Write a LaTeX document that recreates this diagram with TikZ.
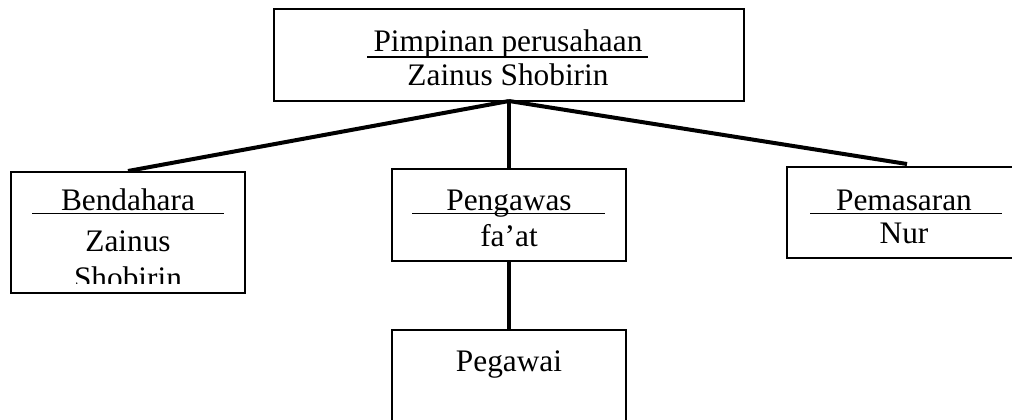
\documentclass[tikz,border=0pt]{standalone}
\usepackage{fontspec}
\setmainfont{Liberation Serif}
\begin{document}
\begin{tikzpicture}[x=0.75pt,y=-0.75pt,
  box/.style={draw, line width=1.3pt, rectangle, inner sep=0pt, outer sep=0pt, anchor=north west},
  conn/.style={line width=3pt},
  uline/.style={line width=1.2pt},
  txt/.style={inner sep=0pt, anchor=base, font=\fontsize{23.5pt}{28pt}\selectfont}]
\useasboundingbox (0,0) rectangle (1012,419);
\clip (0,0) rectangle (1012,419);
% boxes
\node[box, minimum width=352.5pt, minimum height=69pt] (top) at (274,9) {};
\node[box, minimum width=175.5pt, minimum height=90.75pt] (bend) at (11,172) {};
\node[box, minimum width=175.5pt, minimum height=69pt] (peng) at (392,169) {};
\node[box, minimum width=189.75pt, minimum height=68.25pt] (pem) at (787,167) {};
\node[box, minimum width=175.5pt, minimum height=90pt] (peg) at (392,330) {};
% connector ends
\coordinate (e1) at (128,171);
\coordinate (e3) at (907,164);
\draw[conn] (top.south) -- (e1);
\draw[conn] (top.south) -- (peng.north);
\draw[conn] (top.south) -- (e3);
\draw[conn] (peng.south) -- (peg.north);
% texts
\node[txt] (t1) at (508,51) {Pimpinan perusahaan};
\draw[uline] (367,57) -- (648,57);
\node[txt] (t2) at (508,85) {Zainus Shobirin};
\node[txt] (b1) at (128,210) {Bendahara};
\draw[uline] (32,213.5) -- (224,213.5);
\node[txt] (b2) at (128,251) {Zainus};
\begin{scope}
\clip (11,172) rectangle (245,283);
\node[txt] (b3) at (128,288) {Shobirin};
\end{scope}
\node[txt] (p1) at (509,210) {Pengawas};
\draw[uline] (412,213.5) -- (605,213.5);
\node[txt] (p2) at (509,246) {fa’at};
\node[txt] (m1) at (904,210) {Pemasaran};
\draw[uline] (810,213.5) -- (1002,213.5);
\node[txt] (m2) at (904,243) {Nur};
\node[txt] (g1) at (509,371) {Pegawai};
\end{tikzpicture}
\end{document}
